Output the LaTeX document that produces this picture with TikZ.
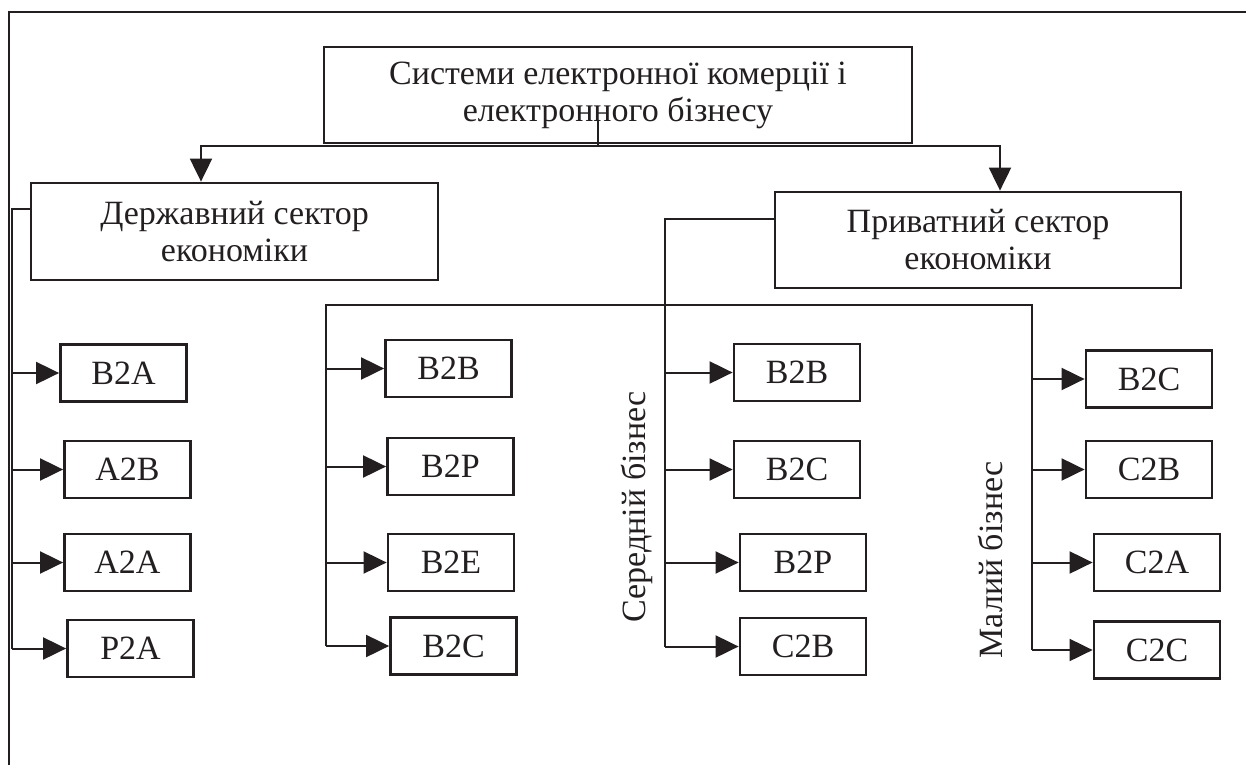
\documentclass[tikz,border=0pt]{standalone}
\usepackage{fontspec}
\setmainfont{Liberation Serif}
\usetikzlibrary{arrows.meta}
\definecolor{ink}{RGB}{35,31,32}

\begin{document}
\begin{tikzpicture}[x=1pt,y=-1pt,line width=2pt,color=ink,
    every node/.style={font=\fontsize{34}{37}\selectfont,text=ink},
    box/.style={draw,line width=2.8pt,inner sep=0pt,minimum height=57pt,minimum width=126pt},
    bigbox/.style={draw,line width=2.8pt,inner sep=0pt,align=center},
    arr/.style={-{Triangle[length=23pt,width=22pt]}}]
      \useasboundingbox (0,0) rectangle (1246,765);
      \draw[line width=2.8pt] (1246,12) -- (9,12) -- (9,765);
      \draw
        (618,95) node[bigbox,minimum width=588pt,minimum height=96pt] (sys){Системи електронної комерції і\\електронного бізнесу}
        (234.5,231.5) node[bigbox,minimum width=407pt,minimum height=97pt] (gov){Державний сектор\\економіки}
        (978,240) node[bigbox,minimum width=406pt,minimum height=96pt] (priv){Приватний сектор\\економіки};
      \draw
        (123.5,373) node[box] (gb2a){B2A}
        (127.5,469.5) node[box] (ga2b){A2B}
        (127.5,562.5) node[box] (ga2a){A2A}
        (130.5,648.5) node[box] (gp2a){P2A}
        (448.5,368.5) node[box] (lb2b){B2B}
        (450.5,466.5) node[box] (lb2p){B2P}
        (451,562.5) node[box] (lb2e){B2E}
        (453.5,646) node[box] (lb2c){B2C}
        (797,372.5) node[box] (mb2b){B2B}
        (797,469.5) node[box] (mb2c){B2C}
        (803,562.5) node[box] (mb2p){B2P}
        (803,646.5) node[box] (mc2b){C2B}
        (1149,379) node[box] (sb2c){B2C}
        (1149,469.5) node[box] (sc2b){C2B}
        (1157,562.5) node[box] (sc2a){C2A}
        (1157,650) node[box] (sc2c){C2C};
      \node[rotate=90] (mid) at (637,507) {Середній бізнес};
      \node[rotate=90] (small) at (990,560) {Малий бізнес};
      \coordinate (stem) at (598,120);
      \coordinate (bus) at (598,146);
      \coordinate (gbus) at (12,209);
      \coordinate (mbus) at (665,219);
      \coordinate (lbus) at (326,305);
      \coordinate (rbus) at (1032,305);
      \begin{scope}[-]
        \draw[arr] (stem) -- (bus) -| ([xshift=-33.5pt]gov.north);
        \draw[arr] (bus) -| ([xshift=22pt]priv.north);
        \draw ([yshift=22.5pt]gov.west) -- (gbus) -- (gp2a.west -| gbus);
        \draw ([yshift=21pt]priv.west) -- (mbus) -- (mc2b.west -| mbus);
        \draw (lb2c.west -| lbus) -- (lbus) -- (rbus) -- (sc2c.west -| rbus);
        \draw[arr] (gb2a.west -| gbus) -- (gb2a.west);
        \draw[arr] (ga2b.west -| gbus) -- (ga2b.west);
        \draw[arr] (ga2a.west -| gbus) -- (ga2a.west);
        \draw[arr] (gp2a.west -| gbus) -- (gp2a.west);
        \draw[arr] (lb2b.west -| lbus) -- (lb2b.west);
        \draw[arr] (lb2p.west -| lbus) -- (lb2p.west);
        \draw[arr] (lb2e.west -| lbus) -- (lb2e.west);
        \draw[arr] (lb2c.west -| lbus) -- (lb2c.west);
        \draw[arr] (mb2b.west -| mbus) -- (mb2b.west);
        \draw[arr] (mb2c.west -| mbus) -- (mb2c.west);
        \draw[arr] (mb2p.west -| mbus) -- (mb2p.west);
        \draw[arr] (mc2b.west -| mbus) -- (mc2b.west);
        \draw[arr] (sb2c.west -| rbus) -- (sb2c.west);
        \draw[arr] (sc2b.west -| rbus) -- (sc2b.west);
        \draw[arr] (sc2a.west -| rbus) -- (sc2a.west);
        \draw[arr] (sc2c.west -| rbus) -- (sc2c.west);
      \end{scope}
    \end{tikzpicture}
\end{document}
